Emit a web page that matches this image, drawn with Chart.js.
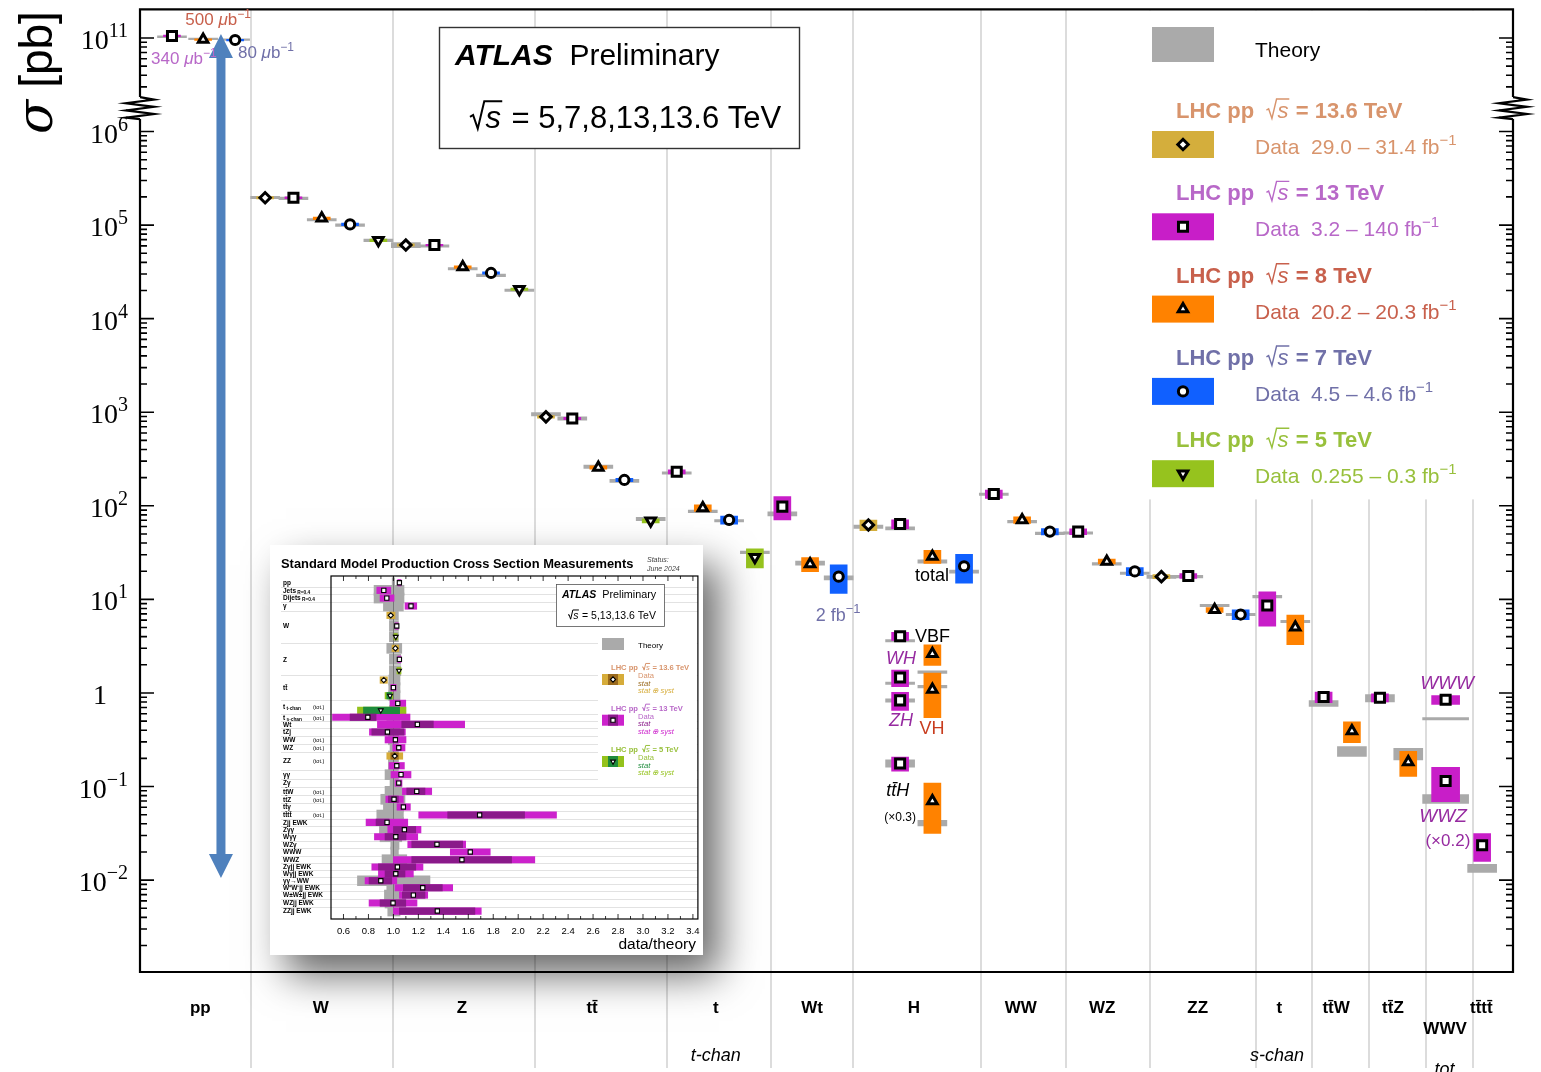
<!DOCTYPE html>
<html>
<head>
<meta charset="utf-8">
<title>Standard Model cross sections</title>
<script src="https://cdn.jsdelivr.net/npm/chart.js@4.4.1/dist/chart.umd.min.js"></script>
<style>
  html, body { margin: 0; padding: 0; background: #fff; }
  #wrap { position: relative; width: 1541px; height: 1072px; overflow: hidden; }
  #xsec { position: absolute; left: 0; top: 0; }
  #inset { position: absolute; left: 270px; top: 545px; width: 433px; height: 410px; background: #fff;
           box-shadow: 16px 20px 38px rgba(0, 0, 0, 0.6); }
</style>
</head>
<body>
<div id="wrap">
  <canvas id="xsec" width="1541" height="1072"></canvas>
  <div id="inset"><canvas id="ratio" width="433" height="410"></canvas></div>
</div>
<script>
const SANS = 'Liberation Sans';
const SERIF = 'Liberation Serif';

// ---------- cross sections ----------
// right edge of every process column, x axis in slot units
const columnEdges = [3.92, 8.94, 13.95, 18.62, 22.29, 25.19, 29.71, 32.71, 35.68, 39.42, 41.40, 43.41, 45.43, 47.09];
const columnLabels = ['pp', 'W', 'Z', 'tt\u0304', 't', 'Wt', 'H', 'WW', 'WZ', 'ZZ', 't', 'tt\u0304W', 'tt\u0304Z', 'WWV', 'tt\u0304tt\u0304'];
const columnLabelX = [2.13, 6.39, 11.37, 15.97, 20.34, 23.74, 27.34, 31.11, 33.99, 37.36, 40.25, 42.25, 44.26, 46.10, 47.38];
const columnNotes = ['t-chan', 's-chan', 'tot.'];
const columnNoteX = [20.34, 40.16, 46.17];

// [x, sigma (pb), rel. uncertainty, theory (pb), theory rel. uncertainty]
const data136 = [
  [4.42, 1.96e5, 0.03, 1.97e5, 0.03],
  [9.39, 6.12e4, 0.03, 6.12e4, 0.06],
  [14.34, 893, 0.03, 953, 0.04],
  [25.73, 62.4, 0.13, 59.9, 0.04],
  [36.08, 17.5, 0.05, 17.4, 0.04]
];
const data13 = [
  [1.13, 1.05e11, 0.02, 1.03e11, 0.02],
  [5.42, 1.96e5, 0.02, 1.93e5, 0.03],
  [10.40, 6.12e4, 0.02, 5.97e4, 0.03],
  [15.27, 857, 0.03, 857, 0.04],
  [18.96, 231, 0.05, 224, 0.03],
  [22.69, 98, 0.28, 81.9, 0.05],
  [26.85, 64.0, 0.11, 57.4, 0.04],
  [26.85, 4.04, 0.10, 3.61, 0.03],
  [26.85, 1.46, 0.20, 1.27, 0.03],
  [26.85, 0.833, 0.22, 0.83, 0.04],
  [26.85, 0.176, 0.17, 0.177, 0.09],
  [30.16, 133.6, 0.10, 133, 0.03],
  [33.14, 53.0, 0.07, 51.3, 0.03],
  [37.03, 17.8, 0.06, 17.5, 0.03],
  [39.82, 8.6, 0.40, 10.7, 0.03],
  [41.81, 0.904, 0.13, 0.774, 0.07],
  [43.80, 0.889, 0.10, 0.879, 0.09],
  [46.12, 0.847, 0.11, 0.531, 0.03],
  [46.12, 0.1146, 0.40, 0.074, 0.11],
  [47.41, 0.0236, 0.33, 0.01343, 0.10]
];
const data8 = [
  [2.23, 9.6e10, 0.02, 9.8e10, 0.02],
  [6.42, 1.18e5, 0.03, 1.14e5, 0.03],
  [11.40, 3.56e4, 0.03, 3.42e4, 0.03],
  [16.19, 257, 0.04, 262, 0.04],
  [19.88, 94.8, 0.08, 87.3, 0.03],
  [23.67, 23.9, 0.17, 24.5, 0.05],
  [27.99, 28.8, 0.16, 25.4, 0.04],
  [27.99, 2.62, 0.25, 1.67, 0.03],
  [27.99, 1.09, 0.50, 1.17, 0.03],
  [27.99, 0.0702, 0.55, 0.0408, 0.07],
  [31.16, 70.6, 0.08, 67.8, 0.03],
  [34.15, 25.4, 0.06, 24.0, 0.03],
  [37.96, 7.73, 0.06, 8.6, 0.03],
  [40.81, 5.05, 0.35, 5.81, 0.03],
  [42.81, 0.392, 0.25, 0.239, 0.12],
  [44.80, 0.183, 0.30, 0.224, 0.14]
];
const data7 = [
  [3.36, 9.5e10, 0.02, 9.6e10, 0.02],
  [7.42, 1.017e5, 0.03, 1.0e5, 0.03],
  [12.40, 3.08e4, 0.03, 2.9e4, 0.03],
  [17.11, 189, 0.04, 185, 0.04],
  [20.81, 70.6, 0.10, 69.3, 0.03],
  [24.68, 17.5, 0.34, 17.0, 0.05],
  [29.11, 22.6, 0.34, 19.8, 0.04],
  [32.14, 53.0, 0.08, 50.8, 0.03],
  [35.14, 19.9, 0.10, 19.0, 0.03],
  [38.88, 6.89, 0.12, 6.9, 0.03]
];
const data5 = [
  [8.42, 6.87e4, 0.03, 6.87e4, 0.03],
  [13.40, 2.06e4, 0.03, 2.01e4, 0.03],
  [18.04, 69.3, 0.05, 72.3, 0.04],
  [21.72, 28.2, 0.23, 31.8, 0.03]
];

const legendEnergy = ['13.6', '13', '8', '7', '5'];
const legendLumi = ['29.0 \u2013 31.4', '3.2 \u2013 140', '20.2 \u2013 20.3', '4.5 \u2013 4.6', '0.255 \u2013 0.3'];

const arrowX = 2.86;
const arrowSpan = [1e11, 1e-2];
const yExponents = [-2, -1, 0, 1, 2, 3, 4, 5, 6, 11];

const energyStyle = {
  '13.6': { box: '#d4ae3c', text: '#d8946c', point: 'rectRot', radius: 5.2, rotation: 0 },
  '13':   { box: '#c81ec8', text: '#b868c8', point: 'rect', radius: 6.4, rotation: 0 },
  '8':    { box: '#ff8200', text: '#c8604c', point: 'triangle', radius: 5.5, rotation: 0 },
  '7':    { box: '#1060ff', text: '#7070a8', point: 'circle', radius: 4.6, rotation: 0 },
  '5':    { box: '#96c31e', text: '#98c03c', point: 'triangle', radius: 5.5, rotation: 180 }
};
const series = [
  { e: '13.6', pts: data136 }, { e: '13', pts: data13 }, { e: '8', pts: data8 },
  { e: '7', pts: data7 }, { e: '5', pts: data5 }
];

// the axis is log10, with 10^10..10^11 folded down right above 10^6
const axisVal = v => (v > 1e8 ? Math.log10(v) - 4 : Math.log10(v));

// the WWV column uses wider boxes
const isWide = p => p[0] > columnEdges[12] && p[0] < columnEdges[13];
const band = (pts, vi, ei) => pts.map(p => ({ x: p[0], y: [axisVal(p[vi] * (1 - p[ei])), axisVal(p[vi] * (1 + p[ei]))] }));

const allPts = series.flatMap(s => s.pts);
const datasets = [
  { type: 'bar', order: 4, grouped: false, barThickness: 29, backgroundColor: '#aaaaaa', data: band(allPts.filter(p => !isWide(p)), 3, 4) },
  { type: 'bar', order: 4, grouped: false, barThickness: 46, backgroundColor: '#aaaaaa', data: band(allPts.filter(isWide), 3, 4) }
];
series.forEach(s => {
  const st = energyStyle[s.e];
  datasets.push({ type: 'bar', order: 2, grouped: false, barThickness: 17, backgroundColor: st.box, data: band(s.pts.filter(p => !isWide(p)), 1, 2) });
  const wide = s.pts.filter(isWide);
  if (wide.length) datasets.push({ type: 'bar', order: 2, grouped: false, barThickness: 28, backgroundColor: st.box, data: band(wide, 1, 2) });
  datasets.push({
    type: 'scatter', order: 0,
    data: s.pts.map(p => ({ x: p[0], y: axisVal(p[1]) })),
    pointStyle: st.point, rotation: st.rotation, pointRadius: st.radius,
    pointBorderWidth: 3, pointBorderColor: '#000', pointBackgroundColor: '#fff'
  });
});

// ---------- text helpers ----------
function sqrtWidth(ctx, size) {
  ctx.font = `italic ${size}px ${SANS}`;
  return size * 0.5 + ctx.measureText('s').width + size * 0.06;
}
function drawSqrt(ctx, x, y, size) {
  ctx.font = `italic ${size}px ${SANS}`;
  const sw = ctx.measureText('s').width;
  ctx.save();
  ctx.lineWidth = Math.max(1, size * 0.065);
  ctx.strokeStyle = ctx.fillStyle;
  ctx.beginPath();
  ctx.moveTo(x, y - size * 0.36);
  ctx.lineTo(x + size * 0.1, y - size * 0.42);
  ctx.lineTo(x + size * 0.25, y + size * 0.02);
  ctx.lineTo(x + size * 0.46, y - size * 0.86);
  ctx.lineTo(x + size * 0.5 + sw + size * 0.04, y - size * 0.86);
  ctx.stroke();
  ctx.restore();
  ctx.fillText('s', x + size * 0.5, y);
}
// parts: {t, f, c, dy, sqrt}
function rich(ctx, parts, x, y, align) {
  let w = 0;
  parts.forEach(p => {
    if (p.sqrt) { w += sqrtWidth(ctx, p.sqrt); return; }
    ctx.font = p.f; w += ctx.measureText(p.t).width;
  });
  let cx = align === 'center' ? x - w / 2 : align === 'right' ? x - w : x;
  ctx.textAlign = 'left';
  ctx.textBaseline = 'alphabetic';
  parts.forEach(p => {
    if (p.c) ctx.fillStyle = p.c;
    if (p.sqrt) { drawSqrt(ctx, cx, y, p.sqrt); cx += sqrtWidth(ctx, p.sqrt); return; }
    ctx.font = p.f;
    ctx.fillText(p.t, cx, y + (p.dy || 0));
    cx += ctx.measureText(p.t).width;
  });
  return w;
}
const F = (size, style) => `${style ? style + ' ' : ''}${size}px ${SANS}`;
const lumi = (num, prefix, size) => [
  { t: num + ' ', f: F(size) }, ...(prefix ? [{ t: prefix, f: F(size, 'italic') }] : []),
  { t: prefix ? 'b' : 'fb', f: F(size) }, { t: '\u22121', f: F(Math.round(size * 0.72)), dy: -size * 0.42 }
];

function marker(ctx, style, x, y, scale) {
  const st = energyStyle[style];
  ctx.save();
  ctx.fillStyle = '#fff'; ctx.strokeStyle = '#000'; ctx.lineWidth = 3 * (scale || 1);
  Chart.helpers.drawPoint(ctx, { pointStyle: st.point, rotation: st.rotation, radius: st.radius * (scale || 1), borderWidth: 3 * (scale || 1) }, x, y);
  ctx.restore();
}

// annotations placed in data space: x slot, sigma
const notes = [
  { x: 2.76, v: 1.58e11, parts: lumi('500', '\u03bc', 17), c: energyStyle['8'].text },
  { x: 1.55, v: 6.05e10, parts: lumi('340', '\u03bc', 17), c: energyStyle['13'].text },
  { x: 4.45, v: 7.0e10, parts: lumi('80', '\u03bc', 17), c: energyStyle['7'].text },
  { x: 24.66, v: 6.89, parts: lumi('2', '', 18), c: energyStyle['7'].text },
  { x: 27.98, v: 18.4, parts: [{ t: 'total', f: F(18) }], c: '#000' },
  { x: 27.38, v: 4.11, parts: [{ t: 'VBF', f: F(18) }], c: '#000', align: 'left' },
  { x: 26.88, v: 2.34, parts: [{ t: 'WH', f: F(18, 'italic') }], c: '#962aa0' },
  { x: 26.88, v: 0.509, parts: [{ t: 'ZH', f: F(18, 'italic') }], c: '#962aa0' },
  { x: 27.98, v: 0.419, parts: [{ t: 'VH', f: F(18) }], c: '#c83c1e' },
  { x: 26.77, v: 0.0912, parts: [{ t: 'tt\u0304H', f: F(18, 'italic') }], c: '#000' },
  { x: 26.85, v: 0.0493, parts: [{ t: '(\u00d70.3)', f: F(12) }], c: '#000' },
  { x: 46.17, v: 1.265, parts: [{ t: 'WWW', f: F(19, 'italic') }], c: '#962aa0' },
  { x: 46.03, v: 0.0482, parts: [{ t: 'WWZ', f: F(19, 'italic') }], c: '#962aa0' },
  { x: 46.20, v: 0.0267, parts: [{ t: '(\u00d70.2)', f: F(17) }], c: '#962aa0' }
];

const xsecDecor = {
  id: 'xsecDecor',
  beforeDatasetsDraw(chart) {
    const { ctx, chartArea: a, scales: { x } } = chart;
    ctx.save();
    ctx.strokeStyle = '#dcdcdc';
    ctx.lineWidth = 2;
    columnEdges.forEach(e => {
      const px = Math.round(x.getPixelForValue(e));
      ctx.beginPath(); ctx.moveTo(px, a.top); ctx.lineTo(px, 1068); ctx.stroke();
    });
    // white panels behind the text box and the legend
    ctx.fillStyle = '#fff';
    ctx.fillRect(439, 27, 360, 121);
    ctx.fillRect(1140, a.top + 1, a.right - 1141, 489);
    ctx.restore();
  },
  afterDatasetsDraw(chart) {
    const { ctx, scales: { x, y } } = chart;
    const ax = x.getPixelForValue(arrowX);
    const y1 = y.getPixelForValue(axisVal(arrowSpan[0])) - 4;
    const y2 = y.getPixelForValue(axisVal(arrowSpan[1])) - 2;
    const hw = 12, hl = 24, sw = 4.5;
    ctx.save();
    ctx.fillStyle = '#4f81bd';
    ctx.beginPath();
    ctx.moveTo(ax, y1); ctx.lineTo(ax + hw, y1 + hl); ctx.lineTo(ax + sw, y1 + hl);
    ctx.lineTo(ax + sw, y2 - hl); ctx.lineTo(ax + hw, y2 - hl); ctx.lineTo(ax, y2);
    ctx.lineTo(ax - hw, y2 - hl); ctx.lineTo(ax - sw, y2 - hl); ctx.lineTo(ax - sw, y1 + hl);
    ctx.lineTo(ax - hw, y1 + hl); ctx.closePath(); ctx.fill();
    ctx.restore();
  },
  afterDraw(chart) {
    const { ctx, chartArea: a, scales: { x, y } } = chart;
    ctx.save();

    // frame with the broken left/right axes
    const zzMid = y.getPixelForValue(6.25);
    const zt = zzMid - 11, zb = zzMid + 11;
    ctx.strokeStyle = '#000';
    ctx.lineWidth = 2.2;
    ctx.beginPath();
    ctx.moveTo(a.left, zt); ctx.lineTo(a.left, a.top); ctx.lineTo(a.right, a.top); ctx.lineTo(a.right, zt);
    ctx.moveTo(a.left, zb); ctx.lineTo(a.left, a.bottom); ctx.lineTo(a.right, a.bottom); ctx.lineTo(a.right, zb);
    ctx.stroke();
    [a.left, a.right].forEach(ex => {
      ctx.beginPath();
      ctx.moveTo(ex, zt);
      const amp = 14;
      for (let k = 0; k < 6; k++) ctx.lineTo(ex + (k % 2 === 0 ? amp : -amp), zt + 2.5 + k * 3.6);
      ctx.lineTo(ex, zb);
      ctx.stroke();
    });

    // ticks pointing inwards on both sides
    const tick = (t, len) => {
      const py = y.getPixelForValue(t);
      if (py < a.top + 1 || py > a.bottom - 1 || (py > zt - 2 && py < zb + 2)) return;
      ctx.beginPath();
      ctx.moveTo(a.left, py); ctx.lineTo(a.left + len, py);
      ctx.moveTo(a.right, py); ctx.lineTo(a.right - len, py);
      ctx.stroke();
    };
    ctx.lineWidth = 1.6;
    yExponents.forEach(d => tick(axisVal(Math.pow(10, d)), 14));
    for (let d = -3; d <= 5; d++) for (let k = 2; k <= 9; k++) tick(d + Math.log10(k), 7);
    for (let k = 2; k <= 9; k++) tick(6 + Math.log10(k), 7);

    // tick labels
    ctx.fillStyle = '#000';
    yExponents.forEach(d => {
      const py = y.getPixelForValue(axisVal(Math.pow(10, d)));
      if (d === 0) { rich(ctx, [{ t: '1', f: `28px ${SERIF}` }], 107, py + 11, 'right'); return; }
      const sup = d < 0 ? '\u2212' + (-d) : String(d);
      rich(ctx, [{ t: '10', f: `28px ${SERIF}` }, { t: sup, f: `20px ${SERIF}`, dy: -12 }], 128, py + 11, 'right');
    });

    // axis title
    ctx.save();
    ctx.translate(52, 134);
    ctx.rotate(-Math.PI / 2);
    ctx.font = `italic 50px DejaVu Serif`;
    ctx.fillText('\u03c3', 0, 0);
    const sw = ctx.measureText('\u03c3').width;
    ctx.font = `46px ${SANS}`;
    ctx.fillText('[pb]', sw + 12, 0);
    ctx.restore();

    // process names under the frame
    ctx.fillStyle = '#000';
    columnLabels.forEach((lab, i) => {
      const px = x.getPixelForValue(columnLabelX[i]);
      rich(ctx, [{ t: lab, f: F(17, 'bold') }], px, lab === 'WWV' ? 1034 : 1013, 'center');
    });
    columnNotes.forEach((n, i) => {
      rich(ctx, [{ t: n, f: F(18, 'italic') }], x.getPixelForValue(columnNoteX[i]), n === 'tot.' ? 1075 : 1061, 'center');
    });

    // ATLAS box
    ctx.strokeStyle = '#333';
    ctx.lineWidth = 1.4;
    ctx.strokeRect(439.5, 27.5, 360, 121);
    ctx.fillStyle = '#000';
    rich(ctx, [{ t: 'ATLAS', f: F(30, 'italic bold') }, { t: '  Preliminary', f: F(30) }], 455, 65, 'left');
    rich(ctx, [{ sqrt: 31 }, { t: ' = 5,7,8,13,13.6 TeV', f: F(31) }], 470, 128, 'left');

    // legend
    ctx.fillStyle = '#aaaaaa';
    ctx.fillRect(1152, 27, 62, 35);
    ctx.fillStyle = '#000';
    rich(ctx, [{ t: 'Theory', f: F(21) }], 1255, 57, 'left');
    legendEnergy.forEach((e, i) => {
      const st = energyStyle[e];
      const base = 118 + 82.3 * i;
      ctx.fillStyle = st.text;
      rich(ctx, [{ t: 'LHC pp  ', f: F(22, 'bold') }, { sqrt: 22 }, { t: ' = ' + e + ' TeV', f: F(22, 'bold') }], 1176, base, 'left');
      ctx.fillStyle = st.box;
      ctx.fillRect(1152, base + 13, 62, 27);
      marker(ctx, e, 1183, base + 26.5);
      ctx.fillStyle = st.text;
      rich(ctx, [{ t: 'Data  ' + legendLumi[i] + ' fb', f: F(21) }, { t: '\u22121', f: F(15), dy: -9 }], 1255, base + 36, 'left');
    });

    // annotations
    notes.forEach(n => {
      ctx.fillStyle = n.c;
      const px = x.getPixelForValue(n.x), py = y.getPixelForValue(axisVal(n.v));
      rich(ctx, n.parts, px, py + 6, n.align || 'center');
    });
    ctx.restore();
  }
};

new Chart(document.getElementById('xsec'), {
  type: 'scatter',
  data: { datasets },
  options: {
    responsive: false,
    animation: false,
    events: [],
    layout: { padding: { left: 140, right: 28, top: 8, bottom: 100 } },
    plugins: { legend: { display: false }, tooltip: { enabled: false } },
    scales: {
      x: { type: 'linear', display: false, min: 0, max: 48.5, offset: false },
      y: { type: 'linear', display: false, min: -2.982, max: 7.305, offset: false, beginAtZero: false }
    }
  },
  plugins: [xsecDecor]
});

// ---------- data/theory summary ----------
const ratioLabels = ['pp', 'Jets_R=0.4', 'Dijets_R=0.4', '\u03b3', 'W', 'W', 'W', 'Z', 'Z', 'Z',
  'tt\u0304', 'tt\u0304', 'tt\u0304', 't_t-chan', 't_t-chan', 't_s-chan', 'Wt', 'tZj', 'WW', 'WZ', 'ZZ', 'ZZ',
  '\u03b3\u03b3', 'Z\u03b3', 'tt\u0304W', 'tt\u0304Z', 'tt\u0304\u03b3', 'tt\u0304tt\u0304', 'Zjj EWK', 'Z\u03b3\u03b3',
  'W\u03b3\u03b3', 'WZ\u03b3', 'WWW', 'WWZ', 'Z\u03b3jj EWK', 'W\u03b3jj EWK', '\u03b3\u03b3\u2192WW',
  'W\u207aW\u207bjj EWK', 'W\u00b1W\u00b1jj EWK', 'WZjj EWK', 'ZZjj EWK'];
const ratioTotal = ['t_t-chan', 't_s-chan', 'WW', 'WZ', 'ZZ', 'tt\u0304W', 'tt\u0304Z', 'tt\u0304tt\u0304'];
const ratioPos = [0, 0.93, 1.87, 2.84, 3.98, 5.28, 6.59, 8.0, 9.34, 10.73, 11.87, 12.8, 13.78, 14.71, 15.56,
  16.41, 17.27, 18.21, 19.15, 20.12, 21.13, 22.32, 23.41, 24.43, 25.44, 26.41, 27.35, 28.33, 29.22, 30.12,
  30.98, 31.9, 32.84, 33.78, 34.67, 35.49, 36.34, 37.2, 38.09, 39.06, 40.04];
const ratioEnergy = ['13', '13', '13', '13', '13.6', '13', '5', '13.6', '13', '5', '13.6', '13', '5', '13', '5',
  '13', '13', '13', '13', '13', '13.6', '13', '13', '13', '13', '13', '13', '13', '13', '13',
  '13', '13', '13', '13', '13', '13', '13', '13', '13', '13', '13'];
const ratioVal = [1.048, 0.923, 0.947, 1.141, 0.979, 1.027, 1.019, 1.016, 1.048, 1.045, 0.923, 1.0, 0.973,
  1.035, 0.899, 0.795, 1.192, 0.952, 1.016, 1.043, 1.011, 1.027, 1.061, 1.043, 1.187, 1.005, 1.08, 1.691,
  0.949, 1.088, 1.019, 1.349, 1.616, 1.549, 1.032, 1.019, 0.899, 1.235, 1.16, 0.997, 1.352];
const ratioTot = [[1.035, 1.061], [0.867, 0.979], [0.893, 1.005], [1.093, 1.187], [0.947, 1.013], [1.013, 1.04],
  [1.005, 1.032], [0.989, 1.043], [1.035, 1.061], [1.029, 1.061], [0.893, 0.952], [0.979, 1.021], [0.933, 0.995],
  [0.973, 1.099], [0.712, 1.101], [0.512, 1.133], [0.872, 1.571], [0.808, 1.096], [0.933, 1.101], [0.995, 1.093],
  [0.947, 1.075], [0.965, 1.088], [0.981, 1.141], [1.013, 1.069], [1.072, 1.307], [0.939, 1.08], [1.029, 1.136],
  [1.203, 2.307], [0.781, 1.115], [0.955, 1.221], [0.848, 1.195], [1.115, 1.579], [1.456, 1.776], [1.0, 2.133],
  [0.827, 1.237], [0.88, 1.16], [0.773, 1.027], [1.013, 1.475], [1.048, 1.275], [0.805, 1.189], [1.0, 1.704]];
const ratioStat = [null, null, null, null, null, null, null, null, null, null, null, null, [0.947, 0.985],
  null, [0.76, 1.05], [0.653, 0.861], [1.067, 1.32], [0.827, 1.085], null, null, [0.979, 1.04], null, null, null,
  [1.107, 1.253], [0.96, 1.04], null, [1.435, 2.051], [0.861, 0.965], [1.0, 1.179], [0.933, 1.101], [1.147, 1.555],
  null, [1.147, 1.947], [0.88, 1.179], [0.933, 1.093], [0.805, 0.987], [1.08, 1.392], [1.072, 1.253],
  [0.893, 1.099], [1.048, 1.653]];
const ratioTheory = [[0.99, 1.01], [0.845, 1.085], [0.845, 1.085], [0.92, 1.08], [0.968, 1.04], [0.968, 1.04],
  [0.968, 1.04], [0.947, 1.067], [0.968, 1.059], [0.968, 1.059], [0.963, 1.053], [0.963, 1.053], [0.963, 1.053],
  [0.973, 1.04], [0.97, 1.04], [0.96, 1.04], [0.947, 1.053], [0.96, 1.04], [0.96, 1.04], [0.973, 1.035],
  [0.96, 1.04], [0.96, 1.04], [0.933, 1.005], [0.973, 1.04], [0.933, 1.067], [0.899, 1.093], [0.92, 1.08],
  [0.867, 1.08], [0.92, 1.08], [0.888, 1.093], [0.893, 1.067], [0.979, 1.045], [0.979, 1.04], [0.909, 1.107],
  [0.933, 1.067], [0.893, 1.107], [0.712, 1.293], [0.947, 1.059], [0.928, 1.061], [0.933, 1.099], [0.955, 1.053]];
const ratioTicks = [0.6, 0.8, 1.0, 1.2, 1.4, 1.6, 1.8, 2.0, 2.2, 2.4, 2.6, 2.8, 3.0, 3.2, 3.4];

const ratioColor = { '13.6': ['#d6ac3a', '#9a6a1e'], '13': ['#cc22cc', '#8a1a8a'], '5': ['#94c21c', '#1e8c3c'] };
const ratioMarker = { '13.6': ['rectRot', 0, 2.6], '13': ['rect', 0, 3.0], '5': ['triangle', 180, 2.8] };
const rowIdx = ratioVal.map((_, i) => i);
const statIdx = rowIdx.filter(i => ratioStat[i]);

const ratioDecor = {
  id: 'ratioDecor',
  beforeDatasetsDraw(chart) {
    const { ctx, chartArea: a, scales: { y } } = chart;
    ctx.save();
    ctx.strokeStyle = '#e2e2e2';
    ctx.lineWidth = 1;
    for (let i = 0; i < ratioLabels.length - 1; i++) {
      if (ratioLabels[i] === ratioLabels[i + 1]) continue;
      const py = Math.round(y.getPixelForValue((ratioPos[i] + ratioPos[i + 1]) / 2)) + 0.5;
      ctx.beginPath(); ctx.moveTo(11, py); ctx.lineTo(a.right, py); ctx.stroke();
    }
    ctx.fillStyle = '#fff';
    ctx.fillRect(328, 86, a.right - 329, 150);
    ctx.restore();
  },
  afterDatasetDraw(chart, args) {
    if (args.index !== 0) return;
    const { ctx, chartArea: a, scales: { x } } = chart;
    const px = Math.round(x.getPixelForValue(1.0)) + 0.5;
    ctx.save();
    ctx.strokeStyle = '#777';
    ctx.lineWidth = 1;
    ctx.beginPath(); ctx.moveTo(px, a.top); ctx.lineTo(px, a.bottom); ctx.stroke();
    ctx.restore();
  },
  afterDraw(chart) {
    const { ctx, chartArea: a, scales: { x, y } } = chart;
    ctx.save();
    ctx.strokeStyle = '#000';
    ctx.lineWidth = 1.2;
    ctx.strokeRect(a.left, a.top, a.right - a.left, a.bottom - a.top);
    ctx.lineWidth = 0.8;
    for (let v = 0.6; v < 3.45; v += 0.1) {
      const px = x.getPixelForValue(v);
      const major = Math.abs(v * 5 - Math.round(v * 5)) < 1e-6;
      const len = major ? 5 : 3;
      ctx.beginPath();
      ctx.moveTo(px, a.top); ctx.lineTo(px, a.top + len);
      ctx.moveTo(px, a.bottom); ctx.lineTo(px, a.bottom - len);
      ctx.stroke();
    }
    ctx.fillStyle = '#000';
    ratioTicks.forEach(v => rich(ctx, [{ t: v.toFixed(1), f: F(9.5) }], x.getPixelForValue(v), 389, 'center'));
    rich(ctx, [{ t: 'data/theory', f: F(15.5) }], 426, 404, 'right');

    // row names
    const seen = new Set();
    ratioLabels.forEach((lab, i) => {
      if (seen.has(lab)) return;
      seen.add(lab);
      const rows = rowIdx.filter(j => ratioLabels[j] === lab);
      const pos = rows.reduce((s, j) => s + ratioPos[j], 0) / rows.length;
      const py = y.getPixelForValue(pos) + 2.3;
      const [main, sub] = lab.split('_');
      const w = rich(ctx, [{ t: main, f: F(6.5, 'bold') }], 13, py, 'left');
      if (sub) rich(ctx, [{ t: ' ' + sub, f: F(4.8, 'bold') }], 13 + w, py + 1, 'left');
      if (ratioTotal.includes(lab)) rich(ctx, [{ t: '(tot.)', f: F(5.5) }], 43, py, 'left');
    });

    // title
    rich(ctx, [{ t: 'Standard Model Production Cross Section Measurements', f: F(12.9, 'bold') }], 11, 23, 'left');
    ctx.fillStyle = '#444';
    rich(ctx, [{ t: 'Status:', f: F(7, 'italic') }], 377, 17, 'left');
    rich(ctx, [{ t: 'June 2024', f: F(7, 'italic') }], 377, 26, 'left');

    // text box
    ctx.fillStyle = '#fff';
    ctx.fillRect(286, 39, 108, 42);
    ctx.strokeStyle = '#555';
    ctx.lineWidth = 0.8;
    ctx.strokeRect(286.5, 39.5, 108, 42);
    ctx.fillStyle = '#000';
    rich(ctx, [{ t: 'ATLAS', f: F(10.5, 'italic bold') }, { t: '  Preliminary', f: F(10.8) }], 292, 53, 'left');
    rich(ctx, [{ sqrt: 10.5 }, { t: ' = 5,13,13.6 TeV', f: F(10.5) }], 298, 74, 'left');

    // legend
    ctx.fillStyle = '#aaaaaa';
    ctx.fillRect(332, 93, 22, 12);
    ctx.fillStyle = '#000';
    rich(ctx, [{ t: 'Theory', f: F(8) }], 368, 103, 'left');
    const leg = [['13.6', 125, '#d8946c'], ['13', 165.7, '#b868c8'], ['5', 207, '#98c03c']];
    leg.forEach(([e, base, tc]) => {
      const [light, dark] = ratioColor[e];
      ctx.fillStyle = tc;
      rich(ctx, [{ t: 'LHC pp  ', f: F(7.6, 'bold') }, { sqrt: 7.6 }, { t: ' = ' + e + ' TeV', f: F(7.6, 'bold') }], 341, base, 'left');
      ctx.fillStyle = light; ctx.fillRect(332, base + 4, 22, 11);
      ctx.fillStyle = dark; ctx.fillRect(338, base + 4, 10, 11);
      ctx.save();
      ctx.fillStyle = '#fff'; ctx.strokeStyle = '#000'; ctx.lineWidth = 1.1;
      const m = ratioMarker[e];
      Chart.helpers.drawPoint(ctx, { pointStyle: m[0], rotation: m[1], radius: m[2], borderWidth: 1.1 }, 343, base + 9.5);
      ctx.restore();
      ctx.fillStyle = tc; rich(ctx, [{ t: 'Data', f: F(7.6) }], 368, base + 8, 'left');
      ctx.fillStyle = dark; rich(ctx, [{ t: 'stat', f: F(7.6, 'italic') }], 368, base + 15.5, 'left');
      ctx.fillStyle = light; rich(ctx, [{ t: 'stat \u2295 syst', f: F(7.6, 'italic') }], 368, base + 23, 'left');
    });
    ctx.restore();
  }
};

new Chart(document.getElementById('ratio'), {
  type: 'scatter',
  data: {
    datasets: [
      { type: 'bar', indexAxis: 'y', order: 3, grouped: false, barThickness: 10, backgroundColor: '#aaaaaa',
        data: rowIdx.map(i => ({ y: ratioPos[i], x: ratioTheory[i] })) },
      { type: 'bar', indexAxis: 'y', order: 2, grouped: false, barThickness: 6.5,
        backgroundColor: rowIdx.map(i => ratioColor[ratioEnergy[i]][0]),
        data: rowIdx.map(i => ({ y: ratioPos[i], x: ratioTot[i] })) },
      { type: 'bar', indexAxis: 'y', order: 1, grouped: false, barThickness: 6.5,
        backgroundColor: statIdx.map(i => ratioColor[ratioEnergy[i]][1]),
        data: statIdx.map(i => ({ y: ratioPos[i], x: ratioStat[i] })) },
      { type: 'scatter', order: 0,
        data: rowIdx.map(i => ({ x: ratioVal[i], y: ratioPos[i] })),
        pointStyle: rowIdx.map(i => ratioMarker[ratioEnergy[i]][0]),
        rotation: rowIdx.map(i => ratioMarker[ratioEnergy[i]][1]),
        pointRadius: rowIdx.map(i => ratioMarker[ratioEnergy[i]][2]),
        pointBorderWidth: 1.1, pointBorderColor: '#000', pointBackgroundColor: '#fff' }
    ]
  },
  options: {
    responsive: false,
    animation: false,
    events: [],
    layout: { padding: { left: 61, right: 4, top: 31, bottom: 36 } },
    plugins: { legend: { display: false }, tooltip: { enabled: false } },
    scales: {
      x: { type: 'linear', display: false, min: 0.5, max: 3.44, offset: false, beginAtZero: false },
      y: { type: 'linear', display: false, min: -0.82, max: 41.01, reverse: true, offset: false }
    }
  },
  plugins: [ratioDecor]
});
</script>
</body>
</html>
